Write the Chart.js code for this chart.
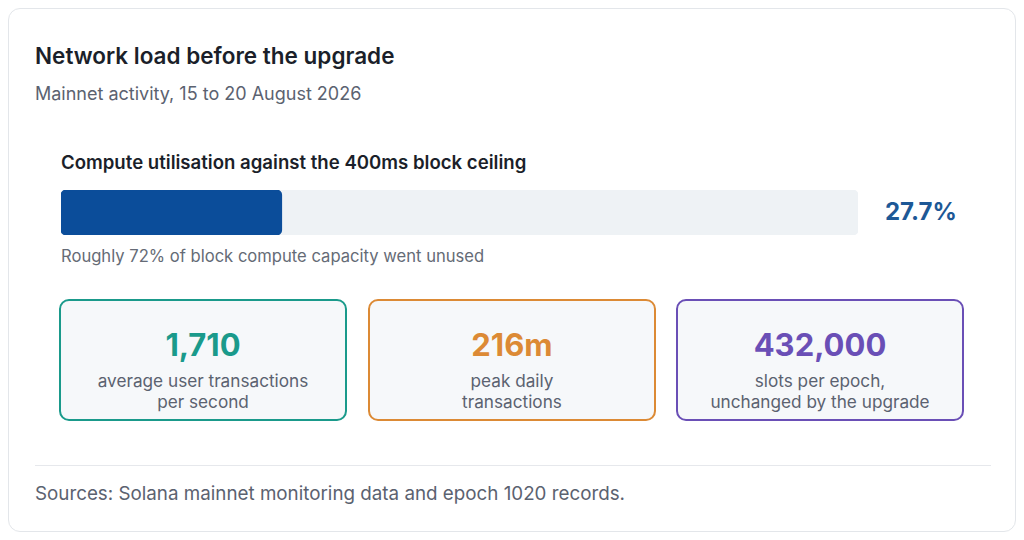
<!DOCTYPE html>
<html>
<head>
<meta charset="utf-8">
<script src="https://cdn.jsdelivr.net/npm/chart.js@4.4.1/dist/chart.umd.min.js"></script>
<style>
  html, body { margin: 0; padding: 0; background: #ffffff; }
  body { width: 1024px; height: 540px; position: relative; overflow: hidden; font-family: Inter, "Noto Sans", sans-serif; }
  .card { position: absolute; left: 8px; top: 8px; width: 1006px; height: 522px; border: 1px solid #e3e6ea; border-radius: 12px; background: #fff; }
  .abs { position: absolute; white-space: nowrap; }
  #title { left: 26px; top: 32px; font-size: 22.5px; line-height: 30px; font-weight: 600; color: #1b1f2a; }
  #subtitle { left: 26px; top: 73px; font-size: 18px; line-height: 24px; color: #5b6270; }
  #barLabel { left: 52px; top: 141px; font-size: 18.6px; line-height: 24px; font-weight: 600; color: #1b1f2a; }
  #barWrap { left: 52px; top: 181px; width: 797px; height: 45px; }
  #barValue { left: 876px; top: 188px; font-size: 24px; line-height: 30px; font-weight: 700; color: #1d5896; }
  #caption { left: 52px; top: 236px; font-size: 16.6px; line-height: 22px; color: #656b76; }
  .kpi { position: absolute; top: 290px; width: 284px; height: 118px; border: 2px solid; border-radius: 10px; background: #f6f8fa; text-align: center; box-sizing: content-box; }
  .kpi .num { margin-top: 25px; font-size: 31px; line-height: 38px; font-weight: 700; }
  .kpi .lbl { margin-top: 6px; font-size: 17.2px; line-height: 21px; color: #5b6270; }
  #divider { left: 26px; top: 456px; width: 956px; height: 1px; background: #e6e8ec; }
  #sources { left: 26px; top: 473px; font-size: 18.8px; line-height: 24px; color: #5b6270; }
</style>
</head>
<body>
<div class="card">
  <div class="abs" id="title">Network load before the upgrade</div>
  <div class="abs" id="subtitle">Mainnet activity, 15 to 20 August 2026</div>
  <div class="abs" id="barLabel">Compute utilisation against the 400ms block ceiling</div>
  <div class="abs" id="barWrap"><canvas id="utilChart"></canvas></div>
  <div class="abs" id="barValue"></div>
  <div class="abs" id="caption">Roughly 72% of block compute capacity went unused</div>
  <div id="kpis"></div>
  <div class="abs" id="divider"></div>
  <div class="abs" id="sources">Sources: Solana mainnet monitoring data and epoch 1020 records.</div>
</div>
<script>
// Compute utilisation (percent of the 400ms block ceiling)
const categorias = ["Compute"];
const utilizacao = [27.7];
const teto = [100];

// KPI cards
const kpiValores = ["1,710", "216m", "432,000"];
const kpiRotulos = [
    "average user transactions<br>per second",
    "peak daily<br>transactions",
    "slots per epoch,<br>unchanged by the upgrade"
];
const kpiCores = ["#1a9a8b", "#dc8a35", "#6a4fb6"];
const kpiEsquerda = [50, 359, 667];

document.getElementById("barValue").textContent = utilizacao[0].toFixed(1) + "%";

const kpis = document.getElementById("kpis");
kpiValores.forEach((v, i) => {
    const box = document.createElement("div");
    box.className = "kpi";
    box.style.left = kpiEsquerda[i] + "px";
    box.style.borderColor = kpiCores[i];
    box.innerHTML = `<div class="num" style="color:${kpiCores[i]}">${v}</div><div class="lbl">${kpiRotulos[i]}</div>`;
    kpis.appendChild(box);
});

new Chart(document.getElementById("utilChart"), {
    type: "bar",
    data: {
        labels: categorias,
        datasets: [
            {
                label: "Utilised",
                data: utilizacao,
                backgroundColor: "#0b4d9a",
                borderRadius: 5,
                borderSkipped: false,
                order: 1,
            },
            {
                label: "Ceiling",
                data: teto,
                backgroundColor: "#eef2f5",
                borderRadius: 5,
                borderSkipped: false,
                order: 2,
            },
        ],
    },
    options: {
        indexAxis: "y",
        responsive: true,
        maintainAspectRatio: false,
        animation: false,
        layout: { padding: 0 },
        datasets: {
            bar: { grouped: false, barPercentage: 1, categoryPercentage: 1 },
        },
        plugins: {
            legend: { display: false },
            tooltip: { enabled: false },
        },
        scales: {
            x: { min: 0, max: 100, display: false },
            y: { display: false },
        },
    },
});
</script>
</body>
</html>
